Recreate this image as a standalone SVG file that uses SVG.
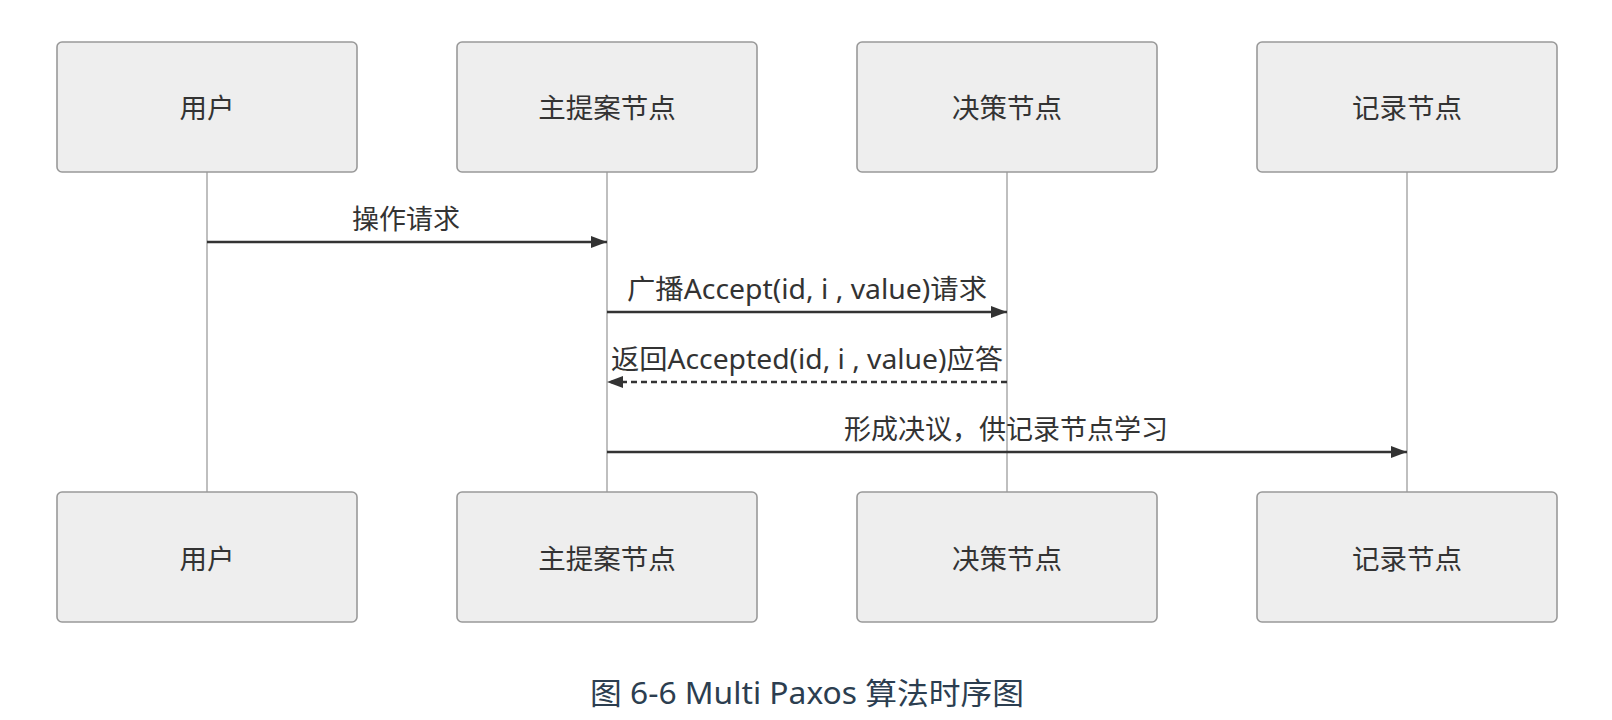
<svg xmlns="http://www.w3.org/2000/svg" width="1612" height="720" viewBox="0 0 1612 720">
<style>
.box{fill:#eeeeee;stroke:#999999;stroke-width:1.6}
.life{stroke:#aaaaaa;stroke-width:1.5;fill:none}
.msg{stroke:#333333;stroke-width:2.6;fill:none}
.dash{stroke-dasharray:6 4}
.lbl{font-family:"Noto Sans","Noto Sans CJK SC",sans-serif;font-size:27.5px;fill:#333333;text-anchor:middle}
.mlbl{font-family:"Noto Sans","Noto Sans CJK SC",sans-serif;font-size:27px;fill:#333333;text-anchor:middle}
.title{font-family:"Noto Sans","Noto Sans CJK SC",sans-serif;font-size:30px;fill:#2c3e50;text-anchor:middle}
</style>
<defs>
<marker id="ah" markerWidth="16" markerHeight="12" refX="16" refY="6" orient="auto" markerUnits="userSpaceOnUse">
<path d="M0,0 L16,6 L0,12 Z" fill="#333333"/>
</marker>
</defs>
<rect width="1612" height="720" fill="#ffffff"/>
<g id="lifelines">
<line class="life" x1="207" y1="172" x2="207" y2="492"/>
<line class="life" x1="607" y1="172" x2="607" y2="492"/>
<line class="life" x1="1007" y1="172" x2="1007" y2="492"/>
<line class="life" x1="1407" y1="172" x2="1407" y2="492"/>
</g>
<g id="user-top"><rect class="box" x="57" y="42" width="300" height="130" rx="5"/><text class="lbl" x="207" y="118">用户</text></g>
<g id="leader-top"><rect class="box" x="457" y="42" width="300" height="130" rx="5"/><text class="lbl" x="607" y="118">主提案节点</text></g>
<g id="acceptor-top"><rect class="box" x="857" y="42" width="300" height="130" rx="5"/><text class="lbl" x="1007" y="118">决策节点</text></g>
<g id="learner-top"><rect class="box" x="1257" y="42" width="300" height="130" rx="5"/><text class="lbl" x="1407" y="118">记录节点</text></g>
<g id="user-bottom"><rect class="box" x="57" y="492" width="300" height="130" rx="5"/><text class="lbl" x="207" y="568.5">用户</text></g>
<g id="leader-bottom"><rect class="box" x="457" y="492" width="300" height="130" rx="5"/><text class="lbl" x="607" y="568.5">主提案节点</text></g>
<g id="acceptor-bottom"><rect class="box" x="857" y="492" width="300" height="130" rx="5"/><text class="lbl" x="1007" y="568.5">决策节点</text></g>
<g id="learner-bottom"><rect class="box" x="1257" y="492" width="300" height="130" rx="5"/><text class="lbl" x="1407" y="568.5">记录节点</text></g>
<g id="connectors">
<line class="msg" x1="207" y1="242" x2="607" y2="242" marker-end="url(#ah)"/>
<text class="mlbl" x="406" y="229">操作请求</text>
<line class="msg" x1="607" y1="312" x2="1007" y2="312" marker-end="url(#ah)"/>
<text class="mlbl" x="807" y="299" textLength="360" lengthAdjust="spacingAndGlyphs">广播Accept(id, i , value)请求</text>
<line class="msg dash" x1="1007" y1="382" x2="607" y2="382" marker-end="url(#ah)"/>
<text class="mlbl" x="807" y="369" textLength="392" lengthAdjust="spacingAndGlyphs">返回Accepted(id, i , value)应答</text>
<line class="msg" x1="607" y1="452" x2="1407" y2="452" marker-end="url(#ah)"/>
<text class="mlbl" x="1006" y="439">形成决议，供记录节点学习</text>
</g>
<text class="title" x="807" y="703.5" textLength="434" lengthAdjust="spacingAndGlyphs">图 6-6 Multi Paxos 算法时序图</text>
</svg>
